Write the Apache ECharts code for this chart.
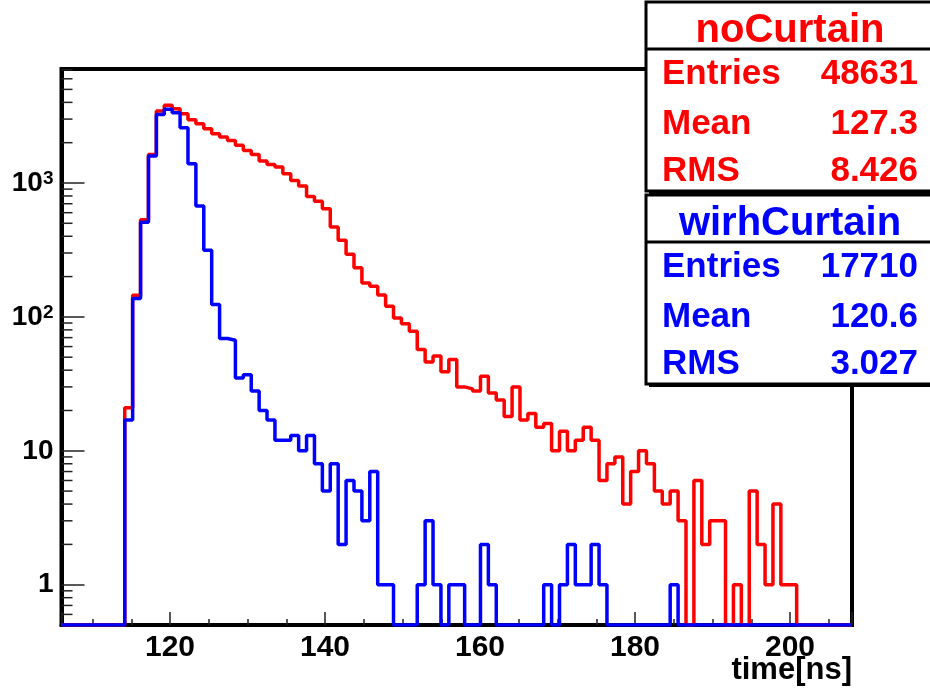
<!DOCTYPE html>
<html>
<head>
<meta charset="utf-8">
<script src="https://cdn.jsdelivr.net/npm/echarts@6/dist/echarts.min.js"></script>
<style>
  html, body { margin: 0; padding: 0; background: #fff; }
  #chart { width: 930px; height: 688px; }
</style>
</head>
<body>
<div id="chart"></div>
<script>
// Histogram binning: 100 equal bins spanning 106–208 ns
const binLow = 106;
const binHigh = 208;
const nBins = 100;

// Bin contents, one entry per bin (bin 0 starts at binLow)
const noCurtain = [
  0, 0, 0, 0, 0, 0, 0, 0, 21, 145,
  532, 1635, 3444, 3800, 3590, 3295, 2972, 2774, 2543, 2333,
  2203, 2080, 1915, 1750, 1635, 1458, 1377, 1315, 1173, 1045,
  948, 794, 732, 643, 469, 373, 293, 233, 179, 169,
  146, 120, 98, 89, 78, 57, 46, 51, 39, 48,
  30, 29, 28, 36, 27, 24, 18, 30, 17, 19,
  15, 16, 10, 14, 10, 12, 15, 12, 6, 8,
  9, 4, 7, 10, 8, 5, 4, 5, 3, 0,
  6, 2, 3, 3, 0, 1, 0, 5, 2, 1,
  4, 1, 1, 0, 0, 0, 0, 0, 0, 0
];
const wirhCurtain = [
  0, 0, 0, 0, 0, 0, 0, 0, 17, 137,
  510, 1589, 3252, 3548, 3350, 2588, 1393, 672, 314, 124,
  69, 67, 35, 37, 28, 20, 17, 12, 12, 13,
  10, 13, 8, 5, 8, 2, 6, 5, 3, 7,
  1, 1, 0, 0, 0, 1, 3, 1, 0, 1,
  1, 0, 0, 2, 1, 0, 0, 0, 0, 0,
  0, 1, 0, 1, 2, 1, 1, 2, 1, 0,
  0, 0, 0, 0, 0, 0, 0, 1, 0, 0,
  0, 0, 0, 0, 0, 0, 0, 0, 0, 0,
  0, 0, 0, 0, 0, 0, 0, 0, 0, 0
];

// Statistics boxes
const statLabels = ['Entries', 'Mean', 'RMS'];
const noCurtainStats = ['48631', '127.3', '8.426'];
const wirhCurtainStats = ['17710', '120.6', '3.027'];

// Axis ranges
const yMin = 0.5;
const yMax = 7100;
const xTitle = 'time[ns]';

const FONT = '"Liberation Sans", Arial, Helvetica, sans-serif';
const RED = '#ff0000';
const BLUE = '#0000ff';

// Histogram outline: one point per bin low edge, closed at the upper edge.
// Empty bins sit on the lower edge of the log frame.
function outline(counts) {
  const w = (binHigh - binLow) / nBins;
  const pts = counts.map((c, i) => [binLow + i * w, c > 0 ? c : yMin]);
  pts.push([binHigh, pts[pts.length - 1][1]]);
  return pts;
}

// Log-axis minor tick values (2..9 x 10^k) inside the range
const yMinorTicks = [];
for (let e = -1; e <= 4; e++) {
  for (let m = 2; m <= 9; m++) {
    const v = m * Math.pow(10, e);
    if (v > yMin && v < yMax) yMinorTicks.push(v);
  }
}

function yLabel(v) {
  const lg = Math.log10(v);
  const e = Math.round(lg);
  if (Math.abs(lg - e) > 1e-6) return '';
  if (e === 0) return '{b|1}';
  if (e === 1) return '{b|10}';
  return '{b|10}{sup|' + e + '}';
}

// Stats box builder
function statBox(top, title, color, values) {
  const left = 646, width = 300, height = 189;
  const els = [
    { type: 'rect', shape: { x: left + 3, y: top + 3, width: width, height: height },
      style: { fill: '#000' }, z: 100 },
    { type: 'rect', shape: { x: left, y: top, width: width, height: height },
      style: { fill: '#fff', stroke: '#000', lineWidth: 3 }, z: 101 },
    { type: 'line', shape: { x1: left, y1: top + 47, x2: left + width, y2: top + 47 },
      style: { stroke: '#000', lineWidth: 3 }, z: 102 },
    { type: 'text', x: 790, y: top + 29, z: 103,
      style: { text: title, fill: color, font: 'bold 40px ' + FONT, align: 'center', verticalAlign: 'middle' } }
  ];
  const rowY = [72, 122, 169];
  statLabels.forEach((lab, i) => {
    els.push({ type: 'text', x: 662, y: top + rowY[i], z: 103,
      style: { text: lab, fill: color, font: 'bold 35px ' + FONT, align: 'left', verticalAlign: 'middle' } });
    els.push({ type: 'text', x: 918, y: top + rowY[i], z: 103,
      style: { text: values[i], fill: color, font: 'bold 35px ' + FONT, align: 'right', verticalAlign: 'middle' } });
  });
  return els;
}

const chart = echarts.init(document.getElementById('chart'), null, { renderer: 'canvas' });

chart.setOption({
  animation: false,
  backgroundColor: '#fff',
  grid: {
    left: 61.5, right: 78, top: 69, bottom: 63,
    show: true, borderColor: '#000', borderWidth: 4,
    containLabel: false, outerBoundsMode: 'none'
  },
  xAxis: {
    type: 'value',
    min: binLow, max: binHigh,
    splitNumber: 5,
    axisLine: { lineStyle: { color: '#000', width: 4 } },
    axisTick: { inside: true, length: 13, lineStyle: { color: '#222', width: 1.5 } },
    minorTick: { show: true, splitNumber: 4, length: 6, lineStyle: { color: '#222', width: 1.5 } },
    axisLabel: {
      showMinLabel: false, showMaxLabel: false,
      formatter: v => (Math.abs(v % 20) < 1e-9 ? String(v) : ''),
      color: '#000', fontSize: 30, fontWeight: 'bold', fontFamily: FONT, margin: 8
    },
    splitLine: { show: false },
    minorSplitLine: { show: false }
  },
  yAxis: {
    type: 'log', logBase: 10,
    min: yMin, max: yMax,
    axisLine: { lineStyle: { color: '#000', width: 4 } },
    axisTick: { inside: true, length: 23, lineStyle: { color: '#222', width: 1.5 } },
    minorTick: { show: false },
    axisLabel: {
      showMinLabel: false, showMaxLabel: false,
      formatter: yLabel,
      margin: 8,
      color: '#000', fontSize: 28, fontWeight: 'bold', fontFamily: FONT,
      rich: {
        b: { fontSize: 28, fontWeight: 'bold', fontFamily: FONT, color: '#000', lineHeight: 28 },
        sup: { fontSize: 19, fontWeight: 'bold', fontFamily: FONT, color: '#000',
               lineHeight: 19, verticalAlign: 'top' }
      }
    },
    splitLine: { show: false }
  },
  series: [
    {
      name: 'yMinorTicks',
      type: 'custom',
      silent: true,
      clip: false,
      z: 1,
      data: yMinorTicks.map(v => [binLow, v]),
      renderItem: (params, api) => {
        const p = api.coord([api.value(0), api.value(1)]);
        return {
          type: 'line',
          shape: { x1: p[0], y1: p[1], x2: p[0] + 11, y2: p[1] },
          style: { stroke: '#222', lineWidth: 1.5 }
        };
      }
    },
    {
      name: 'noCurtain',
      type: 'line',
      step: 'end',
      showSymbol: false,
      data: outline(noCurtain),
      lineStyle: { color: RED, width: 3.5 },
      itemStyle: { color: RED },
      z: 3
    },
    {
      name: 'wirhCurtain',
      type: 'line',
      step: 'end',
      showSymbol: false,
      data: outline(wirhCurtain),
      lineStyle: { color: BLUE, width: 3.5 },
      itemStyle: { color: BLUE },
      z: 4
    }
  ],
  graphic: [
    { type: 'text', right: 78, top: 655, z: 50,
      style: { text: xTitle, fill: '#000', font: 'bold 31px ' + FONT } }
  ].concat(statBox(2, 'noCurtain', RED, noCurtainStats))
   .concat(statBox(195, 'wirhCurtain', BLUE, wirhCurtainStats))
});
</script>
</body>
</html>
